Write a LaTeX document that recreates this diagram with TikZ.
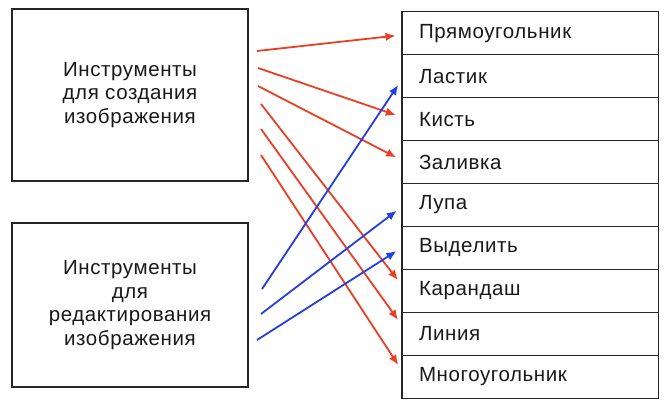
\documentclass[tikz,border=0pt]{standalone}
\usepackage{fontspec}
\setmainfont{Liberation Sans}[LetterSpace=3]
\usetikzlibrary{arrows.meta}
\definecolor{arrred}{RGB}{236,62,36}
\definecolor{arrblue}{RGB}{36,62,228}

\begin{document}
\begin{tikzpicture}[x=1pt,y=-1pt,
    toolbox/.style={draw=black!85, line width=1.3pt, minimum width=236pt, align=center, text=black!90, font=\fontsize{20.5}{23.5}\selectfont},
    row/.style={draw=black!85, line width=1pt, minimum width=256pt, minimum height=42.9pt, text width=222pt, inner xsep=17pt, align=left, text=black!90, font=\fontsize{20.5}{22}\selectfont},
    redarr/.style={arrred, line width=1.8pt, -{Latex[length=10pt,width=8.5pt]}, shorten >=6pt},
    bluearr/.style={arrblue, line width=1.8pt, -{Latex[length=10pt,width=8.5pt]}, shorten >=6pt}]

    \useasboundingbox[fill=white] (0,0) rectangle (667,413);

    % left boxes
    \node[toolbox, minimum height=172pt] (create) at (130,95) {Инструменты\\для создания\\изображения};
    \node[toolbox, minimum height=164pt] (edit) at (130,305) {Инструменты\\для\\редактирования\\изображения};

    % list of tools
    \node[row] (r1) at (530,33.4) {Прямоугольник};
    \node[row] (r2) at (530,76.3) {Ластик};
    \node[row] (r3) at (530,119.2) {Кисть};
    \node[row] (r4) at (530,162.1) {Заливка};
    \node[row] (r5) at (530,205.0) {Лупа};
    \node[row] (r6) at (530,247.9) {Выделить};
    \node[row] (r7) at (530,290.8) {Карандаш};
    \node[row] (r8) at (530,333.7) {Линия};
    \node[row] (r9) at (530,376.6) {Многоугольник};
    \draw[black!85, line width=1.3pt] (r1.north west) rectangle (r9.south east);

    % arrow starts
    \coordinate (a1) at (257,51);
    \coordinate (a2) at (258,68);
    \coordinate (a3) at (258,86);
    \coordinate (a4) at (261,104);
    \coordinate (a5) at (261,129);
    \coordinate (a6) at (261,155);
    \coordinate (b1) at (262,289);
    \coordinate (b2) at (261,314);
    \coordinate (b3) at (257,340);

    \draw[redarr] (a1) -- ([yshift=-1.6pt]r1.west);
    \draw[redarr] (a2) -- ([yshift=2.2pt]r3.west);
    \draw[redarr] (a3) -- ([yshift=2pt]r4.west);
    \draw[redarr] (a4) -- ([yshift=6pt]r7.west);
    \draw[redarr] (a5) -- ([yshift=9pt]r8.west);
    \draw[redarr] (a6) -- ([yshift=6.6pt]r9.west);

    \draw[bluearr] (b1) -- ([yshift=-3.7pt]r2.west);
    \draw[bluearr] (b2) -- ([yshift=-2pt]r5.west);
    \draw[bluearr] (b3) -- (r6.west);

\end{tikzpicture}
\end{document}
